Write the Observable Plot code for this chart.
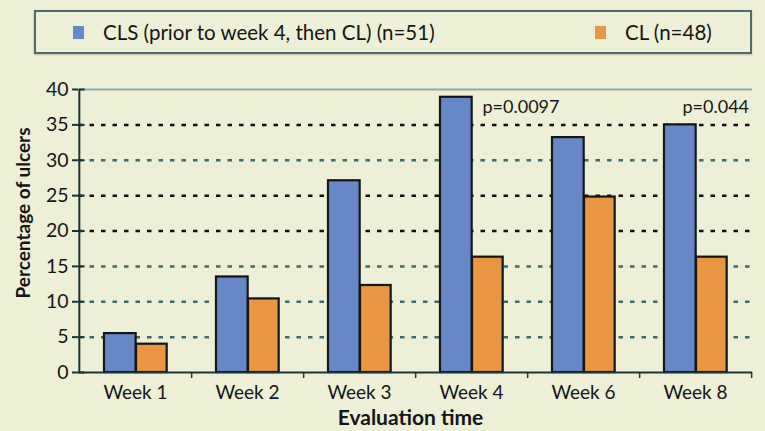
<!DOCTYPE html>
<html><head><meta charset="utf-8">
<script src="https://cdn.jsdelivr.net/npm/d3@7"></script>
<script src="https://cdn.jsdelivr.net/npm/@observablehq/plot@0.6"></script>
<style>
html,body{margin:0;padding:0;background:#edf0d7;}
body{width:765px;height:431px;overflow:hidden;font-family:Lato,"Open Sans",sans-serif;}
#legend{position:relative;height:58px;}
#legend .box{position:absolute;left:34px;top:10px;width:718px;height:44px;box-sizing:border-box;border:2px solid #4d6b6e;box-shadow:0 1px 2px rgba(120,90,60,0.35);}
#legend .item{position:absolute;top:0;height:40px;display:flex;align-items:center;font-size:20.5px;color:#151515;white-space:nowrap;}
#legend .sw{width:11px;height:13px;margin-right:19px;display:inline-block;}
#chart svg{display:block;}
</style>
</head><body>
<div id="legend"><div class="box"></div></div>
<div id="chart"></div>
<script>
// ---- data ----
const weeks = ["Week 1", "Week 2", "Week 3", "Week 4", "Week 6", "Week 8"];
const clsValues = [5.5, 13.5, 27.1, 38.9, 33.2, 35.0];
const clValues = [4.0, 10.4, 12.3, 16.3, 24.8, 16.3];
const seriesNames = ["CLS (prior to week 4, then CL) (n=51)", "CL (n=48)"];
const seriesColors = ["#6688c8", "#e89644"];
const yTicks = [0, 5, 10, 15, 20, 25, 30, 35, 40];
const gridDark = [20, 25, 35];
const gridTeal = [5, 10, 15, 30];
const pWeeks = ["Week 4", "Week 8"];
const pValues = [37.5, 37.5];
const pLabels = ["p=0.0097", "p=0.044"];

// ---- legend ----
const box = document.querySelector("#legend .box");
const legendLeft = [37, 559];
seriesNames.forEach((name, i) => {
  const it = document.createElement("div");
  it.className = "item";
  it.style.left = legendLeft[i] + "px";
  const sw = document.createElement("span");
  sw.className = "sw";
  sw.style.background = seriesColors[i];
  it.appendChild(sw);
  it.appendChild(document.createTextNode(name));
  box.appendChild(it);
});

// ---- chart ----
const W = 765, H = 373, mL = 78, mR = 13, mT = 31, mB = 59;
const bw = (W - mL - mR) / weeks.length;
const axisColor = "#1c3434";
const rows = weeks.map((w, i) => ({week: w, cls: clsValues[i], cl: clValues[i]}));

const chart = Plot.plot({
  width: W, height: H,
  marginLeft: mL, marginRight: mR, marginTop: mT, marginBottom: mB,
  style: {background: "transparent", fontFamily: "Lato, 'Open Sans', sans-serif", fontSize: "19px", color: "#151515"},
  x: {domain: weeks, padding: 0, label: null},
  y: {domain: [0, 40], label: null},
  marks: [
    Plot.ruleY([40], {stroke: "#8fa9a8", strokeWidth: 2}),
    Plot.ruleY(gridDark, {y: d => d, stroke: "#111", strokeWidth: 2.5, strokeDasharray: "4.5,7"}),
    Plot.ruleY(gridTeal, {y: d => d, stroke: "#3f6a6a", strokeWidth: 2.5, strokeDasharray: "4.5,7"}),
    Plot.barY(rows, {x: "week", y: "cls", fill: seriesColors[0], stroke: "#141414", strokeWidth: 2.2, insetLeft: 25, insetRight: bw - 57}),
    Plot.barY(rows, {x: "week", y: "cl", fill: seriesColors[1], stroke: "#141414", strokeWidth: 2.2, insetLeft: 57, insetRight: bw - 88}),
    Plot.ruleY([0], {stroke: axisColor, strokeWidth: 2}),
    Plot.ruleX([weeks[0]], {dx: -bw / 2, y1: 0, y2: 40, stroke: axisColor, strokeWidth: 2}),
    Plot.ruleX(weeks, {x: d => d, dx: bw / 2, y1: 0, y2: 0, insetBottom: -6, stroke: axisColor, strokeWidth: 1.5}),
    Plot.tickY(yTicks, {y: d => d, x: () => weeks[0], insetRight: bw - 6, stroke: axisColor, strokeWidth: 2}),
    Plot.axisY({ticks: yTicks, tickSize: 6, tickPadding: 4, stroke: axisColor, strokeWidth: 2, label: null, fontSize: 19.5}),
    Plot.axisX({tickSize: 0, tickPadding: 13, label: null, fontSize: 19}),
    Plot.text([0], {x: i => pWeeks[i], y: i => pValues[i], text: i => pLabels[i], textAnchor: "start", dx: 11, fontSize: 18}),
    Plot.text([1], {x: i => pWeeks[i], y: i => pValues[i], text: i => pLabels[i], textAnchor: "start", dx: -13, fontSize: 18}),
    Plot.text(["Percentage of ulcers"], {frameAnchor: "left", textAnchor: "middle", lineAnchor: "middle", rotate: -90, dx: -55, dy: -18, fontWeight: "bold", fontSize: 19}),
    Plot.text(["Evaluation time"], {frameAnchor: "bottom", textAnchor: "middle", lineAnchor: "middle", dx: -5, dy: 46, fontWeight: "bold", fontSize: 21})
  ]
});
document.getElementById("chart").appendChild(chart);
</script>
</body></html>
